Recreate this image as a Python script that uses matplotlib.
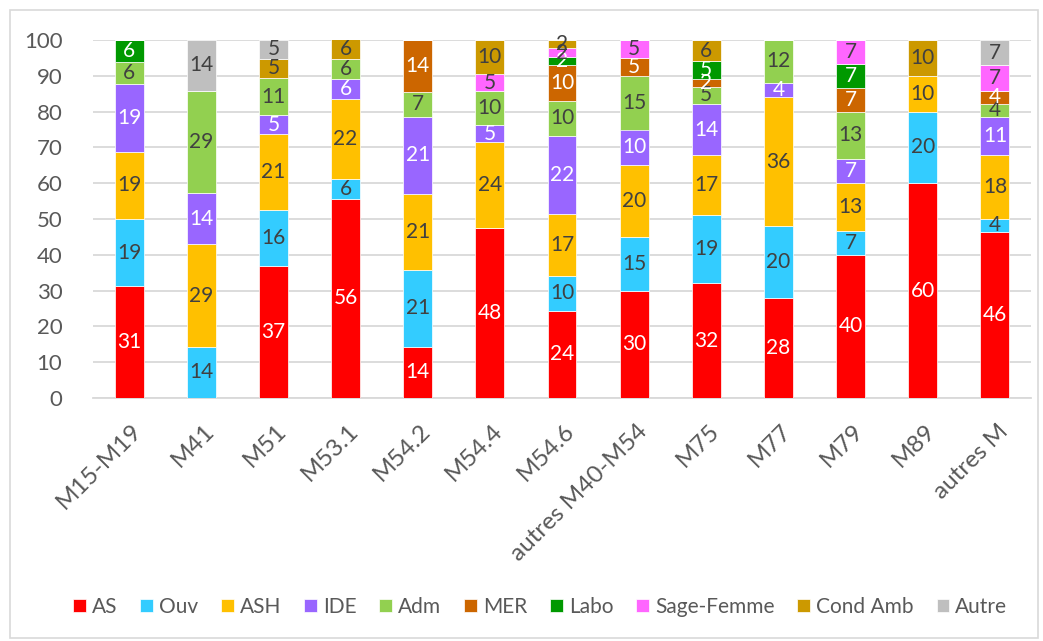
import matplotlib.pyplot as plt
from matplotlib.patches import Rectangle
import matplotlib.transforms as mtransforms
import numpy as np

plt.rcParams['font.family'] = ['Lato', 'DejaVu Sans']

# categories (axis labels)
categories = ["M15-M19", "M41", "M51", "M53.1", "M54.2", "M54.4", "M54.6",
              "autres M40-M54", "M75", "M77", "M79", "M89", "autres M"]

# series values (percent), bottom to top
AS    = [31.2, 0,    36.84, 55.6, 14.3, 47.6, 24.4, 30, 32, 28, 40,   60, 46.4]
Ouv   = [18.8, 14.3, 15.79, 5.6,  21.4, 0,    9.8,  15, 19, 20, 6.7,  20, 3.6]
ASH   = [18.8, 28.6, 21.05, 22.2, 21.4, 23.8, 17.1, 20, 17, 36, 13.3, 10, 17.9]
IDE   = [18.8, 14.3, 5.26,  5.6,  21.4, 4.8,  22.0, 10, 14, 4,  6.7,  0,  10.7]
Adm   = [6.2,  28.6, 10.53, 5.6,  7.1,  9.52, 9.8,  15, 5,  12, 13.3, 0,  3.6]
MER   = [0,    0,    0,     0,    14.3, 0,    9.8,  5,  2,  0,  6.7,  0,  3.6]
Labo  = [6.2,  0,    0,     0,    0,    0,    2.4,  0,  5,  0,  6.7,  0,  0]
Sage  = [0,    0,    0,     0,    0,    4.8,  2.4,  5,  0,  0,  6.7,  0,  7.1]
Cond  = [0,    0,    5.26,  5.6,  0,    9.52, 2.4,  0,  6,  0,  0,    10, 0]
Autre = [0,    14.3, 5.26,  0,    0,    0,    0,    0,  0,  0,  0,    0,  7.1]

series_names = ["AS", "Ouv", "ASH", "IDE", "Adm", "MER", "Labo", "Sage-Femme", "Cond Amb", "Autre"]
series_vals = [AS, Ouv, ASH, IDE, Adm, MER, Labo, Sage, Cond, Autre]
colors = ["#FF0000", "#33CCFF", "#FFC000", "#9966FF", "#92D050",
          "#CC6600", "#009900", "#FF66FF", "#CC9900", "#BFBFBF"]
label_colors = ["white", "#404040", "#404040", "white", "#404040",
                "white", "white", "#404040", "#404040", "#404040"]

fig = plt.figure(figsize=(10.43, 6.41), dpi=100)
# chart border
fig.patches.append(Rectangle((10/1043, 3/641), 1028/1043, 628/641, transform=fig.transFigure,
                             fill=False, edgecolor="#D9D9D9", linewidth=1.2))
ax = fig.add_axes([93/1043, 1 - 398/641, (1031 - 93)/1043, (398 - 40)/641])

x = np.arange(len(categories))
bottom = np.zeros(len(categories))
for name, vals, col, lc in zip(series_names, series_vals, colors, label_colors):
    vals = np.array(vals, dtype=float)
    ax.bar(x, vals, 0.4, bottom=bottom, color=col, label=name,
           edgecolor="white", linewidth=0.5, zorder=3)
    for xi, b, v in zip(x, bottom, vals):
        if v > 0:
            ax.text(xi, b + v / 2, "%.0f" % v, ha="center", va="center",
                    color=lc, fontsize=15, zorder=4)
    bottom += vals

ax.set_xlim(-0.5, len(categories) - 0.5)
ax.set_ylim(0, 100)
ax.set_yticks(range(0, 101, 10))
ax.yaxis.grid(True, color="#D9D9D9", linewidth=1.3, zorder=0)
ax.set_axisbelow(True)
for s in ["top", "right", "left"]:
    ax.spines[s].set_visible(False)
ax.spines["bottom"].set_color("#D9D9D9")
ax.spines["bottom"].set_linewidth(1.3)
ax.tick_params(axis="both", length=0, labelsize=16, labelcolor="#595959")
ax.tick_params(axis="y", pad=22)
ax.tick_params(axis="x", pad=16, labelsize=17.5)
ax.set_xticks(x)
ax.set_xticklabels(categories, rotation=45, ha="right", rotation_mode="anchor")
shift = mtransforms.ScaledTranslation(2/100, 0, fig.dpi_scale_trans)
for lab in ax.get_xticklabels():
    lab.set_transform(lab.get_transform() + shift)

fig.legend(loc="center", bbox_to_anchor=(0.518, 0.053), ncol=10, frameon=False,
           fontsize=15, handlelength=0.6, handleheight=0.6, handletextpad=0.3,
           columnspacing=1.1, labelcolor="#595959")

fig.savefig("out.png", dpi=100)
